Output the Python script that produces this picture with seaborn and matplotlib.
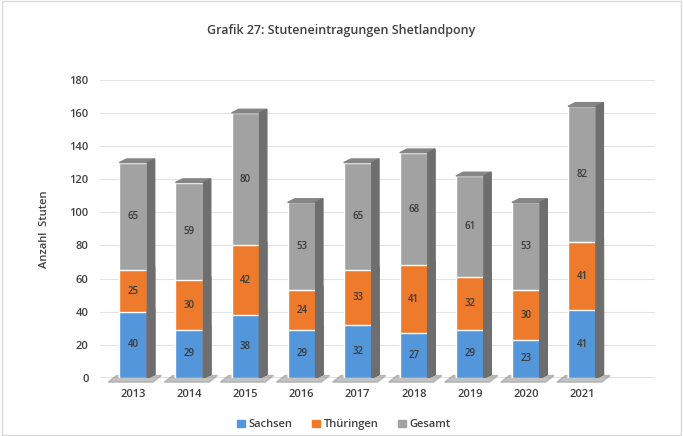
import pandas as pd
import matplotlib.pyplot as plt
import seaborn as sns
from matplotlib.patches import Polygon

years = ['2013', '2014', '2015', '2016', '2017', '2018', '2019', '2020', '2021']
sachsen = [40, 29, 38, 29, 32, 27, 29, 23, 41]
thueringen = [25, 30, 42, 24, 33, 41, 32, 30, 41]
gesamt = [65, 59, 80, 53, 65, 68, 61, 53, 82]

df = pd.DataFrame({'Jahr': years, 'Sachsen': sachsen,
                   'Thüringen': thueringen, 'Gesamt': gesamt})
df['cum_s'] = df['Sachsen']
df['cum_t'] = df['cum_s'] + df['Thüringen']
df['cum_g'] = df['cum_t'] + df['Gesamt']

front = {'Sachsen': '#5496DA', 'Thüringen': '#EE7A2C', 'Gesamt': '#A2A2A2'}
side = {'Sachsen': '#2C6BAA', 'Thüringen': '#B5561A', 'Gesamt': '#6E6E6E'}
topc = {'Sachsen': '#8DB9E4', 'Thüringen': '#F3A06A', 'Gesamt': '#858585'}

sns.set_style('white')
plt.rcParams['font.family'] = ['Open Sans', 'DejaVu Sans']

fig = plt.figure(figsize=(6.83, 4.36), dpi=100)
ax = fig.add_axes([0.146, 0.133, 0.813, 0.684])

# stacked by overlaying cumulative totals, tallest first
layers = [('Gesamt', 'cum_g'), ('Thüringen', 'cum_t'), ('Sachsen', 'cum_s')]
for name, col in layers:
    sns.barplot(data=df, x='Jahr', y=col, color=front[name], width=0.5,
                saturation=1, ax=ax, label=name, zorder=3)

# pseudo 3D faces derived from the drawn patches
dx, dy = 0.13, 2.2
n = len(years)
for k, (name, col) in enumerate(layers):
    for p in ax.patches[k * n:(k + 1) * n]:
        x0, w, h = p.get_x(), p.get_width(), p.get_height()
        x1 = x0 + w
        ax.add_patch(Polygon([(x1, 0), (x1 + dx, dy), (x1 + dx, h + dy), (x1, h)],
                             closed=True, color=side[name], zorder=3 + 0.1 * (3 - k)))
        if name == 'Gesamt':
            ax.add_patch(Polygon([(x0, h), (x1, h), (x1 + dx, h + dy), (x0 + dx, h + dy)],
                                 closed=True, color=topc[name], zorder=3))
            # floor shadow
            ax.add_patch(Polygon([(x0 - 0.2, -2.5), (x1 + 0.1, -2.5), (x1 + dx + 0.12, 1.5),
                                  (x0 - 0.05, 1.5)], closed=True, color='#9A9A9A',
                                 alpha=0.6, zorder=2.5, clip_on=False))

# segment labels
for i in range(n):
    for val, base in [(sachsen[i], 0), (thueringen[i], df['cum_s'][i]),
                      (gesamt[i], df['cum_t'][i])]:
        ax.text(i, base + val / 2, str(val), ha='center', va='center',
                fontsize=7, color='#3A3A3A', fontweight='semibold', zorder=6)

ax.set_xlim(-0.6, 9.3)
ax.set_ylim(0, 180)
ax.set_yticks(range(0, 181, 20))
ax.yaxis.grid(True, color='#E3E3E3', linewidth=0.8, zorder=0)
sns.despine(ax=ax, left=True, bottom=True)
ax.axhline(0, color='#DADADA', linewidth=1.2, zorder=2)
ax.tick_params(axis='both', length=0, labelsize=8, labelcolor='#404040', pad=8)
for t in ax.get_xticklabels() + ax.get_yticklabels():
    t.set_fontweight('semibold')
ax.set_xlabel('')
ax.set_ylabel('Anzahl  Stuten', fontsize=8, color='#404040', fontweight='semibold', labelpad=14)

fig.suptitle('Grafik 27: Stuteneintragungen Shetlandpony', x=0.5, y=0.945,
             fontsize=9, color='#404040', fontweight='semibold')

handles = [plt.Rectangle((0, 0), 1, 1, color=front[k]) for k in ['Sachsen', 'Thüringen', 'Gesamt']]
ax.legend(handles, ['Sachsen', 'Thüringen', 'Gesamt'], loc='upper center',
          bbox_to_anchor=(0.44, -0.105), ncol=3, frameon=False, fontsize=8,
          handlelength=0.7, handleheight=0.7, handletextpad=0.3, columnspacing=1.8,
          labelcolor='#404040', prop={'weight': 'semibold', 'size': 8})

fig.patches.append(plt.Rectangle((0.003, 0.003), 0.994, 0.994, transform=fig.transFigure,
                                 fill=False, edgecolor='#D9D9D9', linewidth=1))
fig.savefig('out.png', dpi=100)
